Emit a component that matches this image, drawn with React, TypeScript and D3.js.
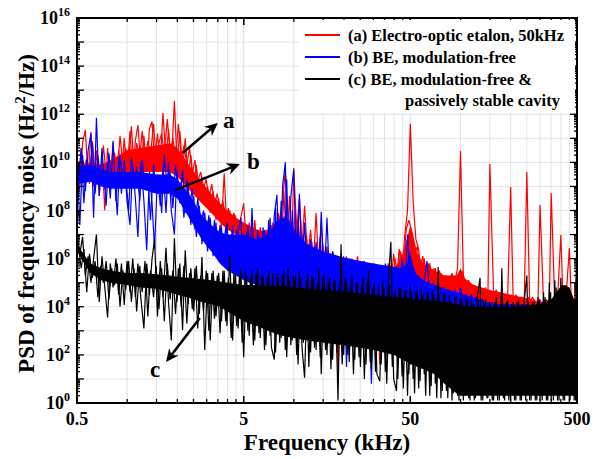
import React, { useRef, useEffect } from 'react';
import * as d3 from 'd3';

// sampled frequency grid (kHz), first pass
const freqKHz = [
  0.500, 0.520, 0.540, 0.561, 0.583, 0.606, 0.629, 0.654, 0.680, 0.706,
  0.734, 0.763, 0.792, 0.823, 0.856, 0.889, 0.924, 0.960, 0.998, 1.04,
  1.08, 1.12, 1.16, 1.21, 1.26, 1.31, 1.36, 1.41, 1.46, 1.52,
  1.58, 1.64, 1.71, 1.77, 1.84, 1.92, 1.99, 2.07, 2.15, 2.23,
  2.32, 2.41, 2.51, 2.60, 2.71, 2.81, 2.92, 3.04, 3.15, 3.28,
  3.41, 3.54, 3.68, 3.82, 3.97, 4.13, 4.29, 4.46, 4.63, 4.81,
  5.00, 5.20, 5.40, 5.61, 5.83, 6.06, 6.29, 6.54, 6.80, 7.06,
  7.34, 7.63, 7.92, 8.23, 8.56, 8.89, 9.24, 9.60, 9.98, 10.4,
  10.8, 11.2, 11.6, 12.1, 12.6, 13.1, 13.6, 14.1, 14.6, 15.2,
  15.8, 16.4, 17.1, 17.7, 18.4, 19.2, 19.9, 20.7, 21.5, 22.3,
  23.2, 24.1, 25.1, 26.0, 27.1, 28.1, 29.2, 30.4, 31.5, 32.8,
  34.1, 35.4, 36.8, 38.2, 39.7, 41.3, 42.9, 44.6, 46.3, 48.1,
  50, 52.0, 54.0, 56.1, 58.3, 60.6, 62.9, 65.4, 68.0, 70.6,
  73.4, 76.3, 79.2, 82.3, 85.6, 88.9, 92.4, 96.0, 100, 104,
  108, 112, 116, 121, 126, 131, 136, 141, 146, 150,
  158, 164, 171, 177, 184, 192, 200, 207, 215, 223,
  232, 241, 250, 260, 271, 281, 292, 300, 315, 328,
  341, 350, 368, 382, 400, 413, 429, 450, 463, 481,
  500,
];

// second pass, sampled between the first-pass bins
const freqKHzB = [
  0.510, 0.530, 0.550, 0.572, 0.594, 0.618, 0.642, 0.667, 0.693, 0.720,
  0.748, 0.777, 0.808, 0.839, 0.872, 0.906, 0.942, 0.979, 1.02, 1.06,
  1.10, 1.14, 1.19, 1.23, 1.28, 1.33, 1.38, 1.44, 1.49, 1.55,
  1.61, 1.67, 1.74, 1.81, 1.88, 1.95, 2.03, 2.11, 2.19, 2.28,
  2.37, 2.46, 2.55, 2.65, 2.76, 2.87, 2.98, 3.09, 3.22, 3.34,
  3.47, 3.61, 3.75, 3.90, 4.05, 4.21, 4.37, 4.54, 4.72, 4.90,
  5.10, 5.30, 5.50, 5.72, 5.94, 6.18, 6.42, 6.67, 6.93, 7.20,
  7.48, 7.77, 8.08, 8.39, 8.72, 9.06, 9.42, 9.79, 10.2, 10.6,
  11.0, 11.4, 11.9, 12.3, 12.8, 13.3, 13.8, 14.4, 14.9, 15.5,
  16.1, 16.7, 17.4, 18.1, 18.8, 19.5, 20.3, 21.1, 21.9, 22.8,
  23.7, 24.6, 25.5, 26.5, 27.6, 28.7, 29.8, 30.9, 32.2, 33.4,
  34.7, 36.1, 37.5, 39.0, 40.5, 42.1, 43.7, 45.4, 47.2, 49.0,
  51.0, 53.0, 55.0, 57.2, 59.4, 61.8, 64.2, 66.7, 69.3, 72.0,
  74.8, 77.7, 80.8, 83.9, 87.2, 90.6, 94.2, 97.9, 102, 106,
  110, 114, 119, 123, 128, 133, 138, 144, 149, 155,
  161, 167, 174, 181, 188, 195, 203, 211, 219, 228,
  237, 246, 255, 265, 276, 287, 298, 309, 322, 334,
  347, 361, 375, 390, 405, 421, 437, 454, 472, 490,
];

// log10 of PSD (Hz^2/Hz)
const redLogPsd = [
  10.2, 9.0, 10.8, 11.35, 9.3, 11.26, 9.0, 10.5, 8.6, 10.3,
  8.0, 10.6, 9.2, 10.8, 9.0, 10.5, 9.4, 11.0, 9.6, 11.3,
  9.5, 10.9, 11.55, 9.8, 11.1, 9.6, 11.4, 11.7, 9.9, 11.2,
  10.0, 12.05, 10.1, 11.4, 9.9, 12.55, 10.0, 11.3, 9.7, 11.0,
  9.4, 10.3, 9.0, 9.9, 8.6, 9.4, 8.3, 9.0, 7.9, 8.8,
  7.6, 8.5, 7.3, 9.55, 7.1, 8.0, 6.9, 7.8, 6.7, 7.7,
  8.3, 6.5, 7.5, 6.3, 7.6, 6.2, 7.3, 6.1, 7.2, 6.0,
  7.4, 5.9, 4.9, 7.7, 8.3, 9.7, 7.0, 4.5, 9.77, 7.2,
  8.5, 6.5, 8.2, 6.0, 7.2, 5.8, 7.9, 5.6, 7.4, 5.6,
  6.5, 5.5, 6.3, 5.4, 1.4, 6.2, 5.3, 6.1, 5.3, 6.0,
  5.2, 6.1, 5.2, 5.9, 5.1, 5.8, 5.0, 5.7, 5.0, 1.6,
  5.7, 5.0, 5.8, 5.0, 6.2, 5.1, 6.4, 5.4, 7.0, 8.0,
  11.6, 8.35, 6.8, 6.4, 5.2, 6.0, 5.0, 5.8, 4.9, 5.6,
  4.9, 5.4, 1.2, 5.3, 4.8, 5.4, 5.0, 5.6, 10.47, 5.3,
  5.0, 5.1, 4.7, 4.9, 4.6, 4.8, 4.5, 4.8, 4.5, 9.93,
  4.5, 4.7, 4.3, 4.6, 4.3, 4.5, 8.98, 4.3, 4.5, 4.2,
  4.4, 4.2, 9.6, 4.2, 4.4, 4.1, 4.3, 8.23, 4.1, 4.3,
  4.1, 8.73, 4.1, 4.3, 6.98, 4.1, 4.3, 6.44, 4.1, 4.3,
  5.5,
];
const redLogPsdB = [
  9.2, 10.6, 9.6, 10.2, 9.1, 10.9, 9.4, 10.0, 9.3, 10.7,
  9.5, 9.9, 9.1, 10.4, 9.6, 11.1, 9.9, 10.6, 10.0, 11.5,
  9.8, 10.8, 10.2, 11.3, 10.1, 10.9, 10.3, 11.6, 10.2, 10.8,
  11.2, 10.3, 11.8, 10.4, 11.0, 10.2, 11.6, 10.1, 10.7, 9.9,
  10.6, 9.5, 10.1, 9.2, 9.6, 8.9, 9.3, 8.5, 9.1, 8.2,
  8.7, 7.9, 8.4, 7.6, 8.1, 7.4, 7.9, 7.2, 7.6, 7.0,
  7.4, 6.6, 7.2, 6.4, 7.1, 6.3, 7.0, 6.2, 7.2, 6.1,
  7.5, 6.0, 7.9, 6.1, 8.8, 6.3, 8.6, 6.2, 8.0, 5.9,
  7.6, 5.8, 7.0, 5.7, 6.7, 5.6, 6.5, 5.5, 6.6, 5.4,
  6.3, 5.4, 6.1, 5.3, 6.0, 5.3, 5.9, 5.2, 5.9, 5.2,
  5.8, 5.1, 5.8, 5.1, 5.7, 5.0, 5.8, 5.0, 5.7, 5.0,
  5.7, 5.0, 5.8, 5.1, 6.0, 5.2, 6.3, 5.6, 7.2, 7.6,
  7.1, 6.2, 6.5, 5.6, 6.1, 5.3, 5.8, 5.1, 5.6, 5.0,
  5.5, 4.9, 5.3, 4.8, 5.3, 4.8, 5.2, 4.9, 5.5, 4.9,
  5.0, 4.7, 4.9, 4.6, 4.8, 4.5, 4.7, 4.5, 4.7, 4.4,
  4.6, 4.4, 4.6, 4.3, 4.5, 4.3, 4.5, 4.2, 4.4, 4.2,
  4.4, 4.1, 4.4, 4.1, 4.3, 4.1, 4.3, 4.1, 4.3, 4.0,
  4.3, 4.0, 4.3, 4.0, 4.2, 4.0, 4.3, 4.0, 4.2, 4.1,
];

const blueLogPsd = [
  10.2, 7.4, 10.3, 8.8, 10.5, 11.2, 7.7, 11.85, 8.6, 10.6,
  8.9, 10.0, 8.5, 10.9, 8.4, 10.2, 8.7, 10.1, 8.4, 7.4,
  9.9, 8.5, 6.9, 10.0, 8.4, 6.35, 9.6, 8.3, 6.4, 9.5,
  8.2, 9.8, 7.9, 10.0, 8.0, 7.0, 9.7, 8.3, 9.7, 7.9,
  9.1, 7.4, 8.6, 6.9, 8.2, 6.6, 7.9, 6.3, 7.7, 6.1,
  7.5, 5.9, 7.3, 5.8, 7.5, 5.6, 7.4, 5.4, 7.1, 7.7,
  5.2, 7.1, 5.0, 8.1, 5.0, 7.2, 4.9, 7.3, 4.9, 7.6,
  5.0, 7.8, 8.65, 5.1, 9.0, 10.0, 5.5, 8.6, 9.7, 5.4,
  8.7, 5.5, 7.5, 5.3, 6.8, 5.2, 6.7, 5.1, 7.95, 5.0,
  7.7, 5.0, 6.3, 4.9, 6.1, 4.9, 6.1, 1.5, 6.0, 4.8,
  5.9, 4.8, 5.9, 4.8, 5.8, 4.7, 0.8, 5.8, 4.7, 5.7,
  4.6, 5.8, 4.6, 5.7, 4.5, 5.7, 4.5, 6.0, 4.6, 7.0,
  5.2, 5.5, 4.6, 5.3, 4.5, 5.1, 5.9, 4.5, 5.0, 4.4,
  4.9, 4.4, 4.8, 4.3, 4.7, 4.3, 4.7, 4.2, 4.8, 4.2,
  4.5, 4.1, 4.5, 4.1, 4.4, 4.0, 4.3, 4.0, 4.2, 0.5,
  4.1, 3.9, 4.1, 3.9, 4.1, 3.9, 4.1, 3.9, 4.1, 0.4,
  4.1, 3.9, 4.1, 3.9, 4.1, 3.9, 4.2, 0.6, 4.2, 3.9,
  4.3, 3.9, 4.3, 0.5, 4.4, 3.9, 4.4, 0.8, 4.4, 4.0,
  4.2,
];
const blueLogPsdB = [
  9.0, 10.6, 8.3, 10.1, 9.3, 10.8, 8.7, 10.3, 9.1, 9.9,
  8.2, 10.4, 9.0, 9.7, 7.8, 10.3, 9.2, 9.5, 8.0, 10.2,
  9.1, 9.8, 8.4, 10.1, 9.0, 9.5, 7.6, 9.9, 8.8, 9.4,
  7.9, 10.3, 8.9, 9.6, 8.1, 9.9, 8.6, 9.2, 7.7, 9.3,
  8.2, 8.9, 7.2, 8.5, 7.4, 8.0, 6.7, 7.8, 6.5, 7.6,
  6.3, 7.4, 6.0, 7.3, 5.7, 7.0, 5.5, 7.2, 5.3, 7.0,
  5.1, 7.4, 5.0, 6.9, 4.9, 7.0, 4.9, 7.2, 5.0, 7.7,
  5.0, 8.1, 5.2, 8.4, 5.6, 9.3, 5.4, 8.0, 5.3, 7.6,
  5.2, 7.0, 5.1, 6.6, 5.0, 6.5, 5.0, 6.9, 4.9, 6.5,
  4.9, 6.2, 4.8, 6.0, 4.8, 5.9, 4.7, 6.0, 4.7, 5.8,
  4.7, 5.8, 4.6, 5.9, 4.6, 5.7, 4.6, 5.7, 4.5, 5.6,
  4.5, 5.7, 4.5, 5.6, 4.4, 5.6, 4.5, 5.8, 4.6, 6.3,
  4.8, 5.4, 4.5, 5.2, 4.4, 5.0, 4.4, 4.9, 4.3, 4.8,
  4.3, 4.8, 4.2, 4.7, 4.2, 4.6, 4.2, 4.6, 4.1, 4.5,
  4.1, 4.4, 4.0, 4.4, 4.0, 4.3, 3.9, 4.2, 3.9, 4.2,
  3.9, 4.1, 3.8, 4.1, 3.8, 4.1, 3.8, 4.1, 3.8, 4.1,
  3.8, 4.1, 3.8, 4.1, 3.8, 4.1, 3.8, 4.2, 3.8, 4.2,
  3.8, 4.3, 3.8, 4.3, 3.9, 4.4, 3.9, 4.4, 3.9, 4.2,
];

const blackLogPsd = [
  7.05, 6.2, 6.9, 5.3, 6.1, 5.0, 6.0, 7.0, 4.2, 6.1,
  4.8, 3.55, 5.8, 4.8, 6.0, 4.5, 5.8, 4.07, 5.9, 4.6,
  6.0, 4.4, 5.8, 4.3, 3.1, 5.8, 4.5, 6.0, 6.8, 3.6,
  5.9, 4.4, 6.45, 4.2, 2.6, 6.85, 4.2, 5.8, 3.03, 6.35,
  4.1, 5.6, 3.8, 5.7, 3.7, 6.07, 2.2, 5.4, 2.6, 5.5,
  3.6, 5.4, 3.4, 5.5, 3.2, 6.15, 2.6, 5.4, 3.1, 5.6,
  1.9, 5.3, 2.8, 5.5, 2.6, 5.6, 2.7, 5.3, 2.4, 5.5,
  2.3, 1.8, 5.4, 2.5, 5.3, 2.2, 5.6, 2.4, 5.3, 2.0,
  5.5, 2.3, 1.05, 5.4, 2.1, 5.2, 2.2, 5.6, 1.2, 5.3,
  2.0, 5.2, 1.8, 5.1, 0.1, 6.6, 2.0, 5.1, 1.7, 5.3,
  1.8, 5.0, 1.5, 5.2, 1.6, 5.5, 1.4, 5.0, 1.2, 0.9,
  5.1, 1.3, 4.9, 6.7, 1.0, 0.5, 4.8, 1.1, 4.7, 0.3,
  4.9, 1.0, 4.6, 0.6, 4.8, 1.2, 4.6, 0.3, 4.7, 0.8,
  5.65, 0.2, 4.6, 0.5, 4.5, 0.1, 4.4, 0.3, 4.5, 0.1,
  4.4, 0.2, 4.3, 0.1, 4.4, 5.2, 0.1, 4.3, 0.2, 4.2,
  0.1, 4.4, 0.1, 5.6, 0.1, 4.3, 0.1, 4.2, 0.1, 4.3,
  0.1, 4.2, 5.3, 0.1, 4.2, 0.1, 4.4, 0.1, 4.6, 0.1,
  5.0, 0.1, 5.1, 0.1, 5.2, 0.1, 4.9, 0.1, 4.4, 0.1,
  7.6,
];
const blackLogPsdB = [
  6.5, 5.6, 6.4, 4.6, 6.2, 5.2, 5.9, 4.4, 5.7, 5.0,
  5.9, 4.3, 5.6, 4.9, 5.8, 4.0, 5.5, 4.7, 5.9, 4.2,
  5.6, 3.8, 5.7, 4.6, 5.9, 3.6, 5.5, 4.4, 5.7, 3.9,
  5.6, 3.4, 5.8, 4.3, 5.5, 3.7, 5.6, 4.0, 5.7, 3.3,
  5.4, 3.9, 5.6, 3.1, 5.3, 3.8, 5.5, 3.0, 5.4, 3.5,
  5.3, 2.9, 5.5, 3.4, 5.2, 2.7, 5.4, 3.2, 5.3, 2.5,
  5.4, 3.0, 5.2, 2.4, 5.4, 2.9, 5.3, 2.2, 5.2, 2.8,
  5.4, 2.1, 5.2, 2.7, 5.5, 1.9, 5.1, 2.6, 5.3, 1.6,
  5.2, 2.5, 5.1, 1.5, 5.3, 2.3, 5.0, 1.9, 5.2, 2.2,
  5.0, 1.4, 5.1, 2.1, 4.9, 1.6, 5.2, 2.0, 4.9, 1.2,
  5.0, 1.9, 4.9, 1.0, 5.1, 1.7, 4.8, 1.3, 4.9, 1.6,
  4.8, 0.8, 4.9, 1.5, 4.7, 1.0, 4.8, 0.6, 4.7, 1.2,
  4.6, 0.4, 4.7, 0.9, 4.5, 0.3, 4.6, 0.7, 4.5, 0.2,
  4.4, 0.5, 4.5, 0.2, 4.3, 0.4, 4.4, 0.1, 4.3, 0.3,
  4.3, 0.1, 4.2, 0.2, 4.3, 0.1, 4.2, 0.2, 4.2, 0.1,
  4.2, 0.1, 4.1, 0.2, 4.2, 0.1, 4.1, 0.1, 4.2, 0.1,
  4.1, 0.1, 4.2, 0.1, 4.2, 0.1, 4.3, 0.1, 4.4, 0.1,
  4.6, 0.1, 4.8, 0.1, 4.9, 0.1, 4.7, 0.1, 4.3, 0.1,
];

// dense noise floor of each trace: upper / lower envelope (log10 PSD)
const bandKHz = [
  0.5, 0.6, 0.7, 0.8, 1, 1.2, 1.5, 1.8, 2, 2.4, 2.8, 3.2, 3.6, 4, 4.5,
  5, 6, 7, 8, 9, 10, 12, 15, 20, 25, 30, 40, 45, 48, 50, 52, 55, 60,
  70, 80, 95, 100, 105, 120, 150, 200, 250, 300, 350, 400, 420, 450, 480, 500,
];
const redBandHi = [
  9.9, 10.0, 9.9, 10.1, 10.5, 10.6, 10.7, 10.8, 10.6, 9.8, 9.2, 8.7, 8.3, 8.0, 7.7,
  7.5, 7.2, 7.1, 7.6, 7.8, 7.3, 6.5, 6.2, 5.9, 5.8, 5.7, 5.55, 6.2, 6.9, 7.4, 7.0, 6.2, 5.8,
  5.5, 5.3, 5.3, 5.6, 5.2, 4.9, 4.7, 4.5, 4.35, 4.2, 4.2, 4.2, 4.2, 4.2, 4.3, 4.2,
];
const redBandLo = [
  9.2, 9.3, 9.2, 9.3, 9.5, 9.6, 9.6, 9.6, 9.4, 8.8, 8.3, 7.9, 7.5, 7.2, 7.0,
  6.7, 6.3, 6.1, 5.9, 5.8, 5.7, 5.4, 5.2, 5.0, 4.8, 4.7, 4.6, 4.6, 4.7, 4.7, 4.6, 4.5, 4.5,
  4.4, 4.3, 4.3, 4.3, 4.2, 4.1, 4.0, 3.9, 3.9, 3.8, 3.8, 3.8, 3.8, 3.8, 3.8, 3.8,
];
const blueBandHi = [
  9.8, 9.9, 9.7, 9.6, 9.6, 9.6, 9.5, 9.5, 9.3, 8.6, 7.8, 7.4, 7.1, 7.0, 7.0,
  7.0, 6.8, 7.0, 7.6, 7.7, 7.2, 6.6, 6.3, 6.05, 5.9, 5.8, 5.65, 5.6, 5.8, 6.2, 5.7, 5.3, 5.1,
  4.9, 4.75, 4.6, 4.6, 4.5, 4.4, 4.1, 4.0, 4.0, 4.0, 4.1, 4.2, 4.3, 4.3, 4.3, 4.2,
];
const blueBandLo = [
  9.1, 9.2, 9.0, 8.9, 8.9, 8.9, 8.7, 8.7, 8.5, 7.6, 6.8, 6.3, 5.8, 5.5, 5.3,
  5.1, 4.9, 4.8, 4.8, 4.8, 4.7, 4.6, 4.5, 4.4, 4.3, 4.25, 4.15, 4.1, 4.1, 4.1, 4.1, 4.0, 4.0,
  3.9, 3.9, 3.8, 3.8, 3.8, 3.7, 3.7, 3.6, 3.6, 3.6, 3.6, 3.6, 3.6, 3.6, 3.6, 3.6,
];
const blackBandHi = [
  6.6, 5.8, 5.6, 5.5, 5.4, 5.4, 5.35, 5.3, 5.25, 5.2, 5.15, 5.1, 5.05, 5.0, 4.95,
  4.9, 4.9, 4.85, 4.85, 4.85, 4.8, 4.75, 4.7, 4.65, 4.55, 4.5, 4.4, 4.4, 4.35, 4.35, 4.3, 4.3, 4.3,
  4.25, 4.2, 4.1, 4.1, 4.05, 4.0, 4.0, 4.0, 4.05, 4.1, 4.3, 4.85, 4.9, 4.8, 4.3, 4.15,
];
const blackBandLo = [
  6.3, 5.4, 5.1, 5.0, 4.9, 4.8, 4.75, 4.6, 4.5, 4.35, 4.2, 4.1, 4.0, 3.8, 3.6,
  3.4, 3.2, 3.0, 2.85, 2.75, 2.7, 2.6, 2.5, 2.4, 2.3, 2.2, 2.0, 1.8, 1.7, 1.6, 1.6, 1.5, 1.4,
  1.2, 0.8, 0.4, 0.3, 0.3, 0.3, 0.3, 0.3, 0.3, 0.3, 0.3, 0.3, 0.3, 0.3, 0.3, 0.3,
];

const xTickValues = [0.5, 5, 50, 500];
const xTickLabels = ['0.5', '5', '50', '500'];
const yTickExponents = [0, 2, 4, 6, 8, 10, 12, 14, 16];

const legendLabels = [
  '(a) Electro-optic etalon, 50kHz',
  '(b) BE, modulation-free',
  '(c) BE, modulation-free &',
];
const legendExtraLine = 'passively stable cavity';
const seriesColors = ['#ff0000', '#0000ff', '#000000'];

// arrow annotations in data coordinates (kHz, log10 PSD)
const annotations = [
  { label: 'a', from: [2.16, 10.4], to: [3.5, 11.64], at: [3.76, 11.43] },
  { label: 'b', from: [1.94, 8.85], to: [4.75, 9.93], at: [5.23, 9.73] },
  { label: 'c', from: [2.73, 3.53], to: [1.71, 1.7], at: [1.37, 1.08] },
];

export default function App() {
  const ref = useRef<SVGSVGElement>(null);

  useEffect(() => {
    const svg = d3.select(ref.current);
    svg.selectAll('*').remove();

    const width = 600;
    const height = 459;
    const margin = { top: 18, right: 23, bottom: 56, left: 77 };
    const font = '"Liberation Serif", "Times New Roman", serif';

    const x = d3.scaleLog().domain([0.5, 500]).range([margin.left, width - margin.right]);
    const y = d3.scaleLog().domain([1, 1e16]).range([height - margin.bottom, margin.top]);
    const p = (v: number) => Math.pow(10, v);

    const x0 = margin.left, x1 = width - margin.right;
    const y0 = height - margin.bottom, y1 = margin.top;

    svg.append('rect').attr('width', width).attr('height', height).attr('fill', '#fff');

    // grid
    const xMinor: number[] = [];
    [0.5, 5, 50].forEach(base => {
      for (let m = 1; m <= 10; m++) xMinor.push(base * m);
    });
    const yMinor: number[] = [];
    for (let e = 0; e < 16; e++) for (let m = 2; m <= 9; m++) yMinor.push(m * p(e));

    const grid = svg.append('g').attr('stroke', '#e3e3e3').attr('stroke-width', 1);
    xMinor.filter(v => v > 0.5 && v < 500).forEach(v => {
      grid.append('line').attr('x1', x(v)).attr('x2', x(v)).attr('y1', y1).attr('y2', y0);
    });
    for (let e = 1; e < 16; e++) {
      grid.append('line').attr('x1', x0).attr('x2', x1).attr('y1', y(p(e))).attr('y2', y(p(e)));
    }

    svg.append('clipPath').attr('id', 'plot-clip')
      .append('rect').attr('x', x0).attr('y', y1).attr('width', x1 - x0).attr('height', y0 - y1);

    const plot = svg.append('g').attr('clip-path', 'url(#plot-clip)');

    const bands = [
      [redBandHi, redBandLo],
      [blueBandHi, blueBandLo],
      [blackBandHi, blackBandLo],
    ];
    const traces = [
      [redLogPsd, redLogPsdB],
      [blueLogPsd, blueLogPsdB],
      [blackLogPsd, blackLogPsdB],
    ];
    const grids = [freqKHz, freqKHzB];

    traces.forEach((pair, s) => {
      const [hi, lo] = bands[s];
      const area = d3.area<number>()
        .x(i => x(bandKHz[i]))
        .y0(i => y(p(lo[i])))
        .y1(i => y(p(hi[i])));
      plot.append('path')
        .attr('d', area(d3.range(bandKHz.length)))
        .attr('fill', seriesColors[s]);
      pair.forEach((vals, g) => {
        const f = grids[g];
        const line = d3.line<number>().x(i => x(f[i])).y(i => y(p(vals[i])));
        plot.append('path')
          .attr('d', line(d3.range(f.length)))
          .attr('fill', 'none')
          .attr('stroke', seriesColors[s])
          .attr('stroke-width', 1.2)
          .attr('stroke-linejoin', 'bevel');
      });
    });

    // ticks (inward, mirrored on top/right)
    const ticks = svg.append('g').attr('stroke', '#000').attr('stroke-width', 1.3);
    xMinor.forEach(v => {
      const len = [0.5, 5, 50, 500].includes(v) ? 7 : 4;
      ticks.append('line').attr('x1', x(v)).attr('x2', x(v)).attr('y1', y0).attr('y2', y0 - len);
      ticks.append('line').attr('x1', x(v)).attr('x2', x(v)).attr('y1', y1).attr('y2', y1 + len);
    });
    for (let e = 0; e <= 16; e++) {
      const yy = y(p(e));
      ticks.append('line').attr('x1', x0).attr('x2', x0 + 7).attr('y1', yy).attr('y2', yy);
      ticks.append('line').attr('x1', x1).attr('x2', x1 - 7).attr('y1', yy).attr('y2', yy);
    }
    yMinor.forEach(v => {
      ticks.append('line').attr('x1', x0).attr('x2', x0 + 3).attr('y1', y(v)).attr('y2', y(v));
      ticks.append('line').attr('x1', x1).attr('x2', x1 - 3).attr('y1', y(v)).attr('y2', y(v));
    });

    // frame
    svg.append('rect')
      .attr('x', x0).attr('y', y1).attr('width', x1 - x0).attr('height', y0 - y1)
      .attr('fill', 'none').attr('stroke', '#000').attr('stroke-width', 2);

    // tick labels
    const labels = svg.append('g').attr('font-family', font).attr('font-weight', 'bold').attr('fill', '#000');
    xTickValues.forEach((v, i) => {
      labels.append('text').attr('x', x(v)).attr('y', y0 + 22)
        .attr('text-anchor', 'middle').attr('font-size', 18).text(xTickLabels[i]);
    });
    yTickExponents.forEach(e => {
      const t = labels.append('text').attr('x', x0 - 7).attr('y', y(p(e)) + 6)
        .attr('text-anchor', 'end').attr('font-size', 18);
      t.append('tspan').text('10');
      t.append('tspan').attr('dy', -8).attr('font-size', 12).text(String(e));
    });

    // axis titles
    labels.append('text').attr('x', (x0 + x1) / 2).attr('y', 450)
      .attr('text-anchor', 'middle').attr('font-size', 23).text('Frequency (kHz)');
    const yt = labels.append('text')
      .attr('transform', `translate(34,${(y0 + y1) / 2 + 3}) rotate(-90)`)
      .attr('text-anchor', 'middle').attr('font-size', 23);
    yt.append('tspan').text('PSD of frequency noise (Hz');
    yt.append('tspan').attr('dy', -9).attr('font-size', 15).text('2');
    yt.append('tspan').attr('dy', 9).text('/Hz)');

    // legend
    const legend = svg.append('g');
    legend.append('rect').attr('x', 299).attr('y', y1 + 2).attr('width', x1 - 301).attr('height', 93).attr('fill', '#fff');
    legendLabels.forEach((lab, i) => {
      const cy = 35 + i * 22;
      legend.append('line').attr('x1', 305).attr('x2', 340).attr('y1', cy).attr('y2', cy)
        .attr('stroke', seriesColors[i]).attr('stroke-width', 2);
      legend.append('text').attr('x', 348).attr('y', cy + 6)
        .attr('font-family', font).attr('font-weight', 'bold').attr('font-size', 16.5).text(lab);
    });
    legend.append('text').attr('x', 405).attr('y', 106)
      .attr('font-family', font).attr('font-weight', 'bold').attr('font-size', 16.5).text(legendExtraLine);

    // arrows
    const ann = svg.append('g');
    annotations.forEach(a => {
      const ax = x(a.from[0]), ay = y(p(a.from[1]));
      const bx = x(a.to[0]), by = y(p(a.to[1]));
      const ang = Math.atan2(by - ay, bx - ax);
      const L = 13, W = 6;
      const ux = Math.cos(ang), uy = Math.sin(ang);
      const backX = bx - ux * L, backY = by - uy * L;
      const notchX = bx - ux * L * 0.7, notchY = by - uy * L * 0.7;
      ann.append('line').attr('x1', ax).attr('y1', ay).attr('x2', notchX).attr('y2', notchY)
        .attr('stroke', '#000').attr('stroke-width', 2.5);
      ann.append('polygon')
        .attr('points', [
          [bx, by],
          [backX - uy * W, backY + ux * W],
          [notchX, notchY],
          [backX + uy * W, backY - ux * W],
        ].map(q => q.join(',')).join(' '))
        .attr('fill', '#000');
      ann.append('text').attr('x', x(a.at[0])).attr('y', y(p(a.at[1])))
        .attr('font-family', font).attr('font-weight', 'bold').attr('font-size', 23).text(a.label);
    });
  }, []);

  return (
    <svg ref={ref} width={600} height={459} style={{ position: 'absolute', left: 0, top: 0 }} />
  );
}
